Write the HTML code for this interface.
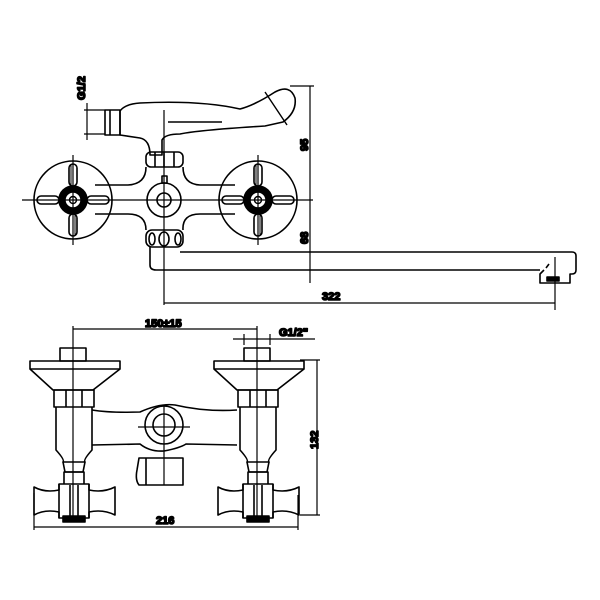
<!DOCTYPE html>
<html><head><meta charset="utf-8"><style>
html,body{margin:0;padding:0;background:#fff;width:600px;height:600px;overflow:hidden}
text{font-family:"Liberation Sans",Arial,sans-serif;font-weight:bold;font-size:11px;fill:#000}
</style></head><body>
<svg width="600" height="600" viewBox="0 0 600 600" xmlns="http://www.w3.org/2000/svg" fill="none" stroke="#000" stroke-width="1.6" stroke-linejoin="round">
<defs>
<g id="hv">
  <circle r="39"/>
  <circle r="14" fill="#000"/>
  <circle r="8" fill="#fff" stroke-width="1.4"/>
  <circle r="3.5" stroke-width="1.4"/>
  <rect x="-4" y="-36" width="8" height="22" rx="4" fill="#fff"/>
  <rect x="-4" y="14" width="8" height="22" rx="4" fill="#fff"/>
  <rect x="-36" y="-4" width="22" height="8" rx="4" fill="#fff"/>
  <rect x="14" y="-4" width="22" height="8" rx="4" fill="#fff"/>
  <line x1="-2" y1="-36" x2="-2" y2="-14" stroke-width="1"/>
  <line x1="2" y1="14" x2="2" y2="36" stroke-width="1"/>
</g>
<g id="bv">
  <rect x="-13" y="-12" width="26" height="13"/>
  <rect x="-43" y="1" width="90" height="8"/>
  <path d="M-43 9 L-20 30 L20 30 L47 9"/>
  <rect x="-19" y="30" width="40" height="17"/>
  <line x1="-7" y1="30" x2="-7" y2="47"/><line x1="9" y1="30" x2="9" y2="47"/>
  <path d="M-17 47 L-17 90 Q-8 100 -10 102 L12 102 Q10 100 19 90 L19 47"/>
  <path d="M-10 102 L-8 112 L10 112 L12 102"/>
  <rect x="-9" y="112" width="20" height="13"/>
  <path d="M-39 127 Q-28 133 -14 130 L-14 124 L16 124 L16 130 Q30 133 42 127 L42 155 Q30 149 16 152 L16 158 L-14 158 L-14 152 Q-28 149 -39 155 Z" fill="#fff"/>
  <line x1="-14" y1="124" x2="-14" y2="158"/><line x1="16" y1="124" x2="16" y2="158"/>
  <rect x="-10" y="156" width="22" height="6" fill="#000"/>
  <line x1="-3" y1="125" x2="-3" y2="158"/><line x1="5" y1="125" x2="5" y2="158"/>
</g>
</defs>
<!-- TOP VIEW -->
<path d="M120 111 Q125 104 140 103 Q200 100 240 109 Q255 105 275 92 Q290 84 295 98 Q297 112 283 122 L265 126 Q200 130 180 134 Q165 134 162 140 L162 155 L150 155 Q150 140 140 138 L120 135 Z" fill="#fff"/>
<line x1="168" y1="122" x2="222" y2="122"/>
<line x1="265" y1="92" x2="287" y2="125" stroke-width="1.4"/>
<rect x="105" y="110" width="15" height="25"/>
<line x1="110" y1="110" x2="110" y2="135"/>
<line x1="87" y1="103" x2="87" y2="140" stroke-width="1.2"/>
<line x1="84" y1="110" x2="105" y2="110" stroke-width="1.2"/><line x1="84" y1="134" x2="105" y2="134" stroke-width="1.2"/>
<text transform="translate(85,100) rotate(-90)">G1/2</text>
<rect x="146" y="152" width="37" height="15" rx="5"/>
<line x1="155" y1="152" x2="155" y2="167"/><line x1="164" y1="152" x2="164" y2="167"/><line x1="174" y1="152" x2="174" y2="167"/>
<path d="M146 167 Q146 184 128 185 L95 185 M183 167 Q183 184 200 185 L235 185 M95 214 L128 214 Q146 214 146 230 M235 214 L200 214 Q182 214 183 230"/>
<rect x="146" y="230" width="37" height="17" rx="6"/>
<ellipse cx="152" cy="239" rx="3" ry="6"/><ellipse cx="164" cy="239" rx="5" ry="7"/><ellipse cx="178" cy="239" rx="3" ry="6"/>
<path d="M150 247 L150 265 Q150 270 156 270 L540 270 M180 252 L572 252 Q576 252 576 256 L576 270 Q576 274 572 274 L570 274 L570 283 L540 283 L540 274 L544 270 M546 268 L549 264"/>
<rect x="547" y="277" width="12" height="4" fill="#000"/>
<use href="#hv" x="73" y="200"/>
<use href="#hv" x="258" y="200"/>
<circle cx="164" cy="200" r="17" fill="#fff"/><circle cx="164" cy="200" r="7"/>
<rect x="162" y="176" width="5" height="7"/>
<line x1="22" y1="200" x2="313" y2="200" stroke-width="1.2"/>
<line x1="164" y1="110" x2="164" y2="305" stroke-width="1.2"/>
<line x1="73" y1="155" x2="73" y2="245" stroke-width="1.2"/>
<line x1="258" y1="155" x2="258" y2="245" stroke-width="1.2"/>
<line x1="310" y1="86" x2="310" y2="283" stroke-width="1.2"/>
<line x1="290" y1="86" x2="314" y2="86" stroke-width="1.2"/>
<text transform="translate(308,151) rotate(-90)">95</text>
<text transform="translate(308,244) rotate(-90)">68</text>
<line x1="164" y1="303" x2="555" y2="303" stroke-width="1.2"/>
<line x1="555" y1="257" x2="555" y2="310" stroke-width="1.2"/>
<text x="322" y="300">322</text>
<!-- FRONT VIEW -->
<path d="M92 410 Q110 413 140 412 Q160 403 175 405 Q205 412 237 410 M92 445 L140 444 Q150 452 164 451 Q180 448 186 444 L237 445"/>
<path d="M139 458 L183 458 L183 485 L139 485 Q135 480 137 470 Z"/>
<line x1="146" y1="458" x2="146" y2="485"/>
<use href="#bv" x="73" y="360"/>
<use href="#bv" x="257" y="360"/>
<circle cx="164" cy="425" r="19" fill="#fff"/><circle cx="164" cy="425" r="11"/>
<line x1="138" y1="427" x2="190" y2="427" stroke-width="1.2"/>
<line x1="164" y1="405" x2="164" y2="485" stroke-width="1.2"/>
<line x1="73" y1="326" x2="73" y2="520" stroke-width="1.2"/>
<line x1="257" y1="326" x2="257" y2="520" stroke-width="1.2"/>
<line x1="73" y1="329" x2="257" y2="329" stroke-width="1.2"/>
<text x="145" y="327">150±15</text>
<line x1="233" y1="339" x2="315" y2="339" stroke-width="1.2"/>
<line x1="244" y1="334" x2="244" y2="345" stroke-width="1.2"/><line x1="270" y1="334" x2="270" y2="345" stroke-width="1.2"/>
<text x="279" y="336">G1/2"</text>
<line x1="300" y1="360" x2="320" y2="360" stroke-width="1.2"/>
<line x1="300" y1="515" x2="320" y2="515" stroke-width="1.2"/>
<line x1="317" y1="360" x2="317" y2="515" stroke-width="1.2"/>
<text transform="translate(318,449) rotate(-90)">132</text>
<line x1="34" y1="493" x2="34" y2="530" stroke-width="1.2"/>
<line x1="298" y1="495" x2="298" y2="530" stroke-width="1.2"/>
<line x1="34" y1="527" x2="298" y2="527" stroke-width="1.2"/>
<text x="156" y="524">216</text>
</svg>
</body></html>
